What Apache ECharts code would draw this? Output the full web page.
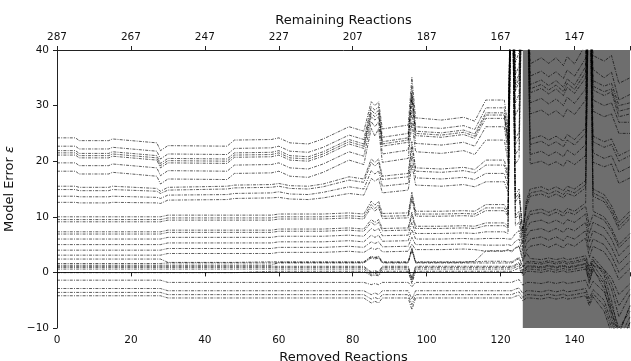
<!DOCTYPE html>
<html>
<head>
<meta charset="utf-8">
<script src="https://cdn.jsdelivr.net/npm/echarts@6/dist/echarts.min.js"></script>
<style>html,body{margin:0;padding:0;background:#fff}#c{width:631px;height:361px}</style>
</head>
<body>
<div id="c"></div>
<script>
// x positions (removed reactions) at which each curve is sampled
const removed = [0,5,6,14,15,27,28,30,46,48,58,60,63,68,72,79,83,85,86,87,88,95,96,97,104,110,113,116,121,122,123,124,125,126,127,128,131,133,135,137,138,140,143,144,145,148,150,152,155];
const totalReactions = 287;
const xTicks = [0,20,40,60,80,100,120,140];
const yTicks = [-10,0,10,20,30,40];
const grayStart = 126, grayEnd = 155;

// upper curves
const u1 = [24.2,24.2,23.7,23.7,24.0,23.3,21.9,22.8,22.7,23.8,23.9,24.2,23.3,23.1,24.0,26.2,25.4,30.7,30.0,30.7,25.8,26.5,35.1,27.8,27.4,27.9,27.2,31.0,31.0,26,60,37.8,39.6,60,60,37.5,38.6,37.6,38.6,37.2,38.8,37.5,41,60,39,38,39,34,35];
const u2 = [22.7,22.7,22.2,22.2,22.5,21.8,20.4,21.3,21.2,22.3,22.4,22.7,21.8,21.6,22.5,24.7,23.9,29.8,29.2,29.8,24.3,25.0,33.4,26.2,25.9,26.4,25.7,29.6,29.6,24.5,60,35.5,37.2,60,60,35.3,36.2,35.2,36.1,34.9,36.4,35.3,38.5,60,36.5,35,36,31,32];
const u3 = [21.9,21.9,21.4,21.4,21.7,21.0,19.6,20.5,20.4,21.5,21.6,21.9,21.0,20.8,21.7,23.9,23.1,29.2,28.5,29.2,23.5,24.2,32.3,25.4,25.1,25.6,24.9,28.7,28.7,23.7,60,34.0,35.7,60,60,33.8,34.6,33.6,34.5,33.3,34.8,33.7,37,60,34.5,33.5,34,30,30.5];
const u4 = [21.5,21.5,21.0,21.0,21.3,20.6,19.2,20.1,20.0,21.1,21.2,21.5,20.6,20.4,21.3,23.5,22.7,28.6,28.0,28.6,23.1,23.8,31.7,25.0,24.7,25.2,24.5,28.3,28.3,23.3,60,33.3,35.0,60,60,33.0,33.8,32.8,33.7,32.5,34.0,32.9,36,60,33.5,32.5,33,29,29.5];
const u5 = [21.1,21.1,20.6,20.6,20.9,20.2,18.8,19.7,19.6,20.7,20.8,21.1,20.2,20.0,20.9,23.1,22.3,28.0,27.4,28.0,22.7,23.4,31.2,24.6,24.3,24.8,24.1,27.7,27.7,22.9,60,32.6,34.3,60,60,32.3,33.1,32.1,33.0,31.8,33.3,32.2,35,60,32.8,31.8,32.5,28,28.5];
const u6 = [19.7,19.7,19.2,19.2,19.5,18.8,17.4,18.3,18.2,19.3,19.4,19.7,18.8,18.6,19.5,21.7,20.9,27.1,26.2,27.1,21.3,22.0,29.0,23.2,22.9,23.4,22.7,26.2,26.2,21.5,60,30.5,32.1,60,60,30.5,31.3,30.3,31.2,30.0,31.5,30.4,33,60,31,30,30.5,27,27];
const u7 = [18.2,18.2,17.7,17.7,18.0,17.3,15.9,16.8,16.7,17.8,17.9,18.2,17.3,17.1,18.0,20.2,19.4,25.9,24.5,25.9,19.8,20.5,27.0,21.7,21.4,21.9,21.2,23.8,23.8,20.0,60,28.2,29.7,60,60,28.5,29.2,28.3,29.1,28.0,29.4,28.4,31,60,29,28,28.5,25,25];
const u8 = [15.5,15.5,15.3,15.3,15.5,15.1,14.6,15.3,15.5,15.7,15.8,16.0,15.6,15.5,15.9,17.2,16.8,20.4,19.8,20.4,17.3,17.8,23.5,18.8,18.6,18.9,18.5,20.2,20.2,17.5,60,24.0,25.3,60,60,24.0,24.6,23.8,24.5,23.6,24.8,23.9,26,60,24.5,23.5,24,21,22];
const u9 = [14.9,14.9,14.7,14.7,14.9,14.6,14.2,14.8,15.0,15.2,15.3,15.5,15.1,15.0,15.4,16.6,16.2,19.8,19.1,19.8,16.7,17.2,22.6,18.2,18.0,18.3,17.9,19.3,19.3,16.8,60,23.0,24.3,60,60,23.0,23.6,22.8,23.5,22.6,23.8,22.9,25,60,23.5,22.5,23,20,21];
const u10 = [13.7,13.7,13.6,13.6,13.7,13.5,13.3,13.9,14.0,14.2,14.3,14.5,14.1,14.0,14.4,15.4,15.0,18.3,17.7,18.3,15.5,16.0,21.0,17.0,16.8,17.1,16.7,17.8,17.8,15.6,60,21.2,22.3,60,60,21.2,21.8,21.0,21.7,20.8,22.0,21.1,23,60,21.5,20.5,21,18,19];
const u11 = [12.6,12.6,12.5,12.5,12.6,12.5,12.4,13.0,13.1,13.3,13.4,13.5,13.2,13.1,13.4,14.2,13.9,16.9,16.4,16.9,14.3,14.8,19.4,15.7,15.5,15.8,15.4,16.3,16.3,14.4,60,19.5,20.5,60,60,19.5,20.0,19.3,19.9,19.1,20.2,19.4,21,60,19.8,19,19.5,16,17];
// middle curves
const m1 = [10,10,10,10,10,10,10,10.3,10.3,10.3,10.3,10.5,10.5,10.5,10.5,10.7,10.5,12.8,12.1,12.8,10.6,10.7,14.4,11,11,11.1,11,12.2,12.2,11,60,14,15,7.5,13,15,15.4,14.8,15.4,14.7,15.5,15,16.5,60,15,14,12,9,11];
const m2 = [9.5,9.5,9.5,9.5,9.5,9.5,9.5,9.8,9.8,9.8,9.8,10,10,10,10,10.2,10,12.2,11.5,12.2,10.1,10.2,13.8,10.5,10.5,10.6,10.5,11.6,11.6,10.5,60,13.3,14.3,7.1,12.4,14.3,14.7,14.1,14.7,14,14.8,14.3,15.8,60,14.3,13.3,11.3,8.3,10.3];
const m3 = [9.1,9.1,9.1,9.1,9.1,9.1,9.1,9.4,9.4,9.4,9.4,9.6,9.6,9.6,9.6,9.8,9.6,11.7,11,11.7,9.7,9.8,13.2,10.1,10.1,10.2,10.1,11.1,11.1,10.1,60,12.7,13.7,6.8,11.8,13.7,14.1,13.5,14.1,13.4,14.2,13.7,15.2,60,13.7,12.7,10.7,7.7,9.7];
const m4 = [7.3,7.3,7.3,7.3,7.3,7.3,7.3,7.6,7.6,7.6,7.6,7.8,7.8,7.8,7.8,8,7.8,9.5,9.0,9.5,7.9,8.0,10.8,8.3,8.3,8.4,8.3,8.9,8.9,8.3,60,10.2,11,5.5,9.5,11,11.4,10.8,11.4,10.7,11.5,11,12.5,60,11,10,8,5,7];
const m5 = [6.9,6.9,6.9,6.9,6.9,6.9,6.9,7.2,7.2,7.2,7.2,7.4,7.4,7.4,7.4,7.6,7.4,9.0,8.5,9.0,7.5,7.6,10.3,7.9,7.9,8.0,7.9,8.4,8.4,7.9,60,9.7,10.4,5.2,9.0,10.4,10.8,10.2,10.8,10.1,10.9,10.4,11.9,8.4,10.4,9.4,7.4,4.4,6.4];
const m6 = [6.0,6.0,6.0,6.0,6.0,6.0,6.0,6.3,6.3,6.3,6.3,6.5,6.5,6.5,6.5,6.7,6.5,7.9,7.5,7.9,6.6,6.7,9.0,7.0,7.0,7.1,7.0,7.3,7.3,7.0,60,8.4,9.0,4.5,7.8,9,9.4,8.8,9.4,8.7,9.5,9,10.5,7,9,8,6,3,5];
const m7 = [5.0,5.0,5.0,5.0,5.0,5.0,5.0,5.3,5.3,5.3,5.3,5.5,5.5,5.5,5.5,5.7,5.5,6.7,6.3,6.7,5.6,5.7,7.7,6.0,6.0,6.1,6.0,6.1,6.1,6.0,6.0,7.0,7.5,3.8,6.5,7.5,7.9,7.3,7.9,7.2,8.0,7.5,9.0,5.5,7.5,6.5,4.5,1.5,3.5];
const m8 = [4.0,4.0,4.0,4.0,4.0,4.0,4.0,4.3,4.3,4.3,4.3,4.5,4.5,4.5,4.5,4.7,4.5,5.5,5.2,5.5,4.6,4.7,6.3,5.0,5.0,5.1,5.0,4.9,4.9,5.0,4.8,5.6,6.0,3.0,5.2,6,6.4,5.8,6.4,5.7,6.5,6,7.5,4,6,5,3,0,2];
const m9 = [3.1,3.1,3.1,3.1,3.1,3.1,3.1,3.4,3.4,3.4,3.4,3.6,3.6,3.6,3.6,3.8,3.6,4.4,4.1,4.4,3.7,3.8,5.1,4.1,4.1,4.2,4.1,3.8,3.8,4.1,3.7,4.3,4.7,2.3,4.0,4.7,5.1,4.5,5.1,4.4,5.2,4.7,6.2,2.7,4.7,3.7,1.7,-1.3,0.7];
// curves near zero
const z1 = [2.4,2.4,2.4,2.4,2.4,2.4,2.4,1.8,1.8,1.8,1.9,1.9,1.9,1.9,1.9,1.9,1.9,2.9,2.7,2.9,1.9,1.9,4.4,1.9,1.9,1.9,1.9,2.0,2.0,1.9,1.9,2.3,2.7,1.1,1.9,2.0,1.8,2.1,1.8,2.1,1.8,2.0,2.5,0.5,2.3,-0.5,-5,-11,-6];
const z2 = [1.6,1.6,1.6,1.6,1.6,1.6,1.6,1.7,1.7,1.7,1.7,1.7,1.7,1.7,1.7,1.7,1.7,2.6,2.4,2.6,1.7,1.7,4.2,1.7,1.7,1.7,1.7,1.7,1.7,1.7,1.7,2.1,2.5,0.9,1.7,1.7,1.5,1.8,1.5,1.8,1.5,1.7,2.2,0.2,2.0,0,-3,-8,-4];
const z3 = [1.3,1.3,1.3,1.3,1.3,1.3,1.3,1.3,1.3,1.3,1.3,1.8,1.8,1.8,1.8,1.8,1.8,2.8,2.6,2.8,1.8,1.8,4.0,1.8,1.8,1.8,2.0,3.9,3.9,3.9,3.9,4.4,4.8,2.0,3.5,2.5,2.3,2.6,2.3,2.6,2.3,2.5,3,1,2.8,0.5,-2,-6,-3];
const z4 = [1.1,1.1,1.1,1.1,1.1,1.1,1.1,1.1,1.1,1.1,1.1,1.1,1.1,1.1,1.1,1.1,1.1,0.1,0.3,0.1,1.1,1.1,-1.0,1.1,1.1,1.1,1.1,1.1,1.1,1.1,1.1,1.4,1.8,0.4,1.1,1.2,1.0,1.3,1.0,1.3,1.0,1.2,1.6,-0.5,1.4,-1.5,-7,-12,-8];
const z5 = [0.9,0.9,0.9,0.9,0.9,0.9,0.9,0.9,0.9,0.9,0.9,0.9,0.9,0.9,0.9,0.9,0.9,-0.1,0.1,-0.1,0.9,0.9,-1.3,0.9,0.9,0.9,0.9,0.9,0.9,0.9,0.9,1.2,1.6,0.1,0.9,1.0,0.8,1.1,0.8,1.1,0.8,1.0,1.5,-1,1.2,0.5,-1,-4,-2];
const z6 = [0.6,0.6,0.6,0.6,0.6,0.6,0.6,0.6,0.6,0.6,0.6,0.6,0.6,0.6,0.6,0.6,0.6,-0.4,-0.2,-0.4,0.6,0.6,-1.6,0.6,0.6,0.6,0.6,0.6,0.6,0.6,0.6,0.9,1.2,-0.3,0.6,0.6,0.4,0.7,0.4,0.7,0.4,0.6,1.0,-2,0.8,-3,-8,-13,-9];
const z7 = [-0.05,-0.05,-0.05,-0.05,-0.05,-0.05,-0.05,-0.05,-0.05,-0.05,0.2,0.2,0.2,0.2,0.2,0.2,0.2,-0.6,-0.5,-0.6,0.2,0.2,-2.0,0.2,0.2,0.2,0.2,0.2,0.2,0.2,0.2,0.5,0.8,-0.6,0.2,0.2,0.0,0.3,0.0,0.3,0.0,0.2,0.6,-1.5,0.4,-2,-6,-10,-7];
// negative curves
const n1 = [-1.4,-1.4,-1.4,-1.4,-1.4,-1.4,-1.4,-1.8,-1.8,-1.8,-1.8,-1.8,-1.8,-1.8,-1.8,-1.8,-1.8,-2.2,-2.0,-2.2,-1.8,-1.8,-2.6,-1.8,-1.8,-1.8,-1.8,-1.8,-1.8,-1.8,-1.8,-1.5,-1.3,-2.3,-1.8,-1.8,-2.0,-1.7,-2.0,-1.7,-2.0,-1.8,-1.4,-3,-1.6,-3.5,-7,-11,-6];
const n2 = [-2.9,-2.9,-2.9,-2.9,-2.9,-2.9,-2.9,-3.3,-3.3,-3.3,-3.3,-3.3,-3.3,-3.3,-3.3,-3.3,-3.3,-4.0,-3.7,-4.0,-3.3,-3.3,-4.8,-3.3,-3.3,-3.3,-3.3,-3.3,-3.3,-3.3,-3.3,-3.0,-2.8,-3.8,-3.3,-3.3,-3.5,-3.2,-3.5,-3.2,-3.5,-3.3,-2.9,-4.8,-3.1,-5,-9,-13,-10];
const n3 = [-3.6,-3.6,-3.6,-3.6,-3.6,-3.6,-3.6,-4.0,-4.0,-4.0,-4.0,-4.0,-4.0,-4.0,-4.0,-4.0,-4.0,-4.8,-4.5,-4.8,-4.0,-4.0,-5.8,-4.0,-4.0,-4.0,-4.0,-4.0,-4.0,-4.0,-4.0,-3.7,-3.5,-4.5,-4.0,-4.0,-4.2,-3.9,-4.2,-3.9,-4.2,-4.0,-3.6,-5.5,-3.8,-6,-10,-14,-9];
const n4 = [-4.2,-4.2,-4.2,-4.2,-4.2,-4.2,-4.2,-4.6,-4.6,-4.6,-4.6,-4.6,-4.6,-4.6,-4.6,-4.6,-4.6,-5.5,-5.2,-5.5,-4.6,-4.6,-6.7,-4.6,-4.6,-4.6,-4.6,-4.6,-4.6,-4.6,-4.6,-4.3,-4.1,-5.1,-4.6,-4.6,-4.8,-4.5,-4.8,-4.5,-4.8,-4.6,-4.2,-6,-4.4,-7,-11,-15,-12];

const curves = [u1,u2,u3,u4,u5,u6,u7,u8,u9,u10,u11,m1,m2,m3,m4,m5,m6,m7,m8,m9,z1,z2,z3,z4,z5,z6,z7,n1,n2,n3,n4];

const FONT = 'DejaVu Sans';
const series = [{
  type: 'line', data: [], z: 1, silent: true,
  markArea: { silent: true, itemStyle: { color: '#6e6e6e', opacity: 1 },
    data: [[{ xAxis: grayStart }, { xAxis: grayEnd }]] }
}];
curves.forEach((row, k) => {
  series.push({
    type: 'line', name: 'c' + k, showSymbol: false, symbol: 'none', z: 3,
    animation: false, clip: true,
    lineStyle: { color: 'rgba(0,0,0,0.85)', width: 0.75, type: [3, 1.2, 1, 1.2] },
    data: removed.map((x, i) => [x, row[i]])
  });
});

const axisCommon = {
  type: 'value', min: 0, max: 155, interval: 20,
  axisLine: { show: true, lineStyle: { color: '#222', width: 1 } },
  axisTick: { show: true, length: 4, lineStyle: { color: '#222' } },
  splitLine: { show: false },
  nameLocation: 'middle',
  nameTextStyle: { fontFamily: FONT, fontSize: 13, color: '#111' }
};

const chart = echarts.init(document.getElementById('c'), null, { renderer: 'canvas' });
chart.setOption({
  animation: false,
  backgroundColor: '#fff',
  grid: { left: 57, right: 1, top: 50, bottom: 33, containLabel: false, outerBoundsMode: 'none' },
  xAxis: [
    Object.assign({}, axisCommon, {
      position: 'bottom', name: 'Removed Reactions', nameGap: 19,
      axisLabel: { fontFamily: FONT, fontSize: 10.5, color: '#111', margin: 7,
        customValues: xTicks }
    }),
    Object.assign({}, axisCommon, {
      position: 'top', name: 'Remaining Reactions', nameGap: 19,
      axisLabel: { fontFamily: FONT, fontSize: 10.5, color: '#111', margin: 7,
        customValues: xTicks,
        formatter: v => String(totalReactions - v) }
    })
  ],
  yAxis: {
    type: 'value', min: -10, max: 40, interval: 10,
    axisLine: { show: true, lineStyle: { color: '#222', width: 1 } },
    axisTick: { show: true, length: 4, lineStyle: { color: '#222' } },
    splitLine: { show: false },
    axisLabel: { fontFamily: FONT, fontSize: 10.5, color: '#111', margin: 8,
      customValues: yTicks,
      formatter: v => (v < 0 ? '\u2212' + Math.abs(v) : String(v)) },
    name: '{a|Model Error }{b|ε}', nameLocation: 'middle', nameGap: 33,
    nameTextStyle: { fontFamily: FONT, fontSize: 13, color: '#111',
      rich: { a: { fontFamily: FONT, fontSize: 13, color: '#111' },
              b: { fontFamily: FONT, fontSize: 13, color: '#111', fontStyle: 'italic' } } }
  },
  series: series
});
</script>
</body>
</html>
